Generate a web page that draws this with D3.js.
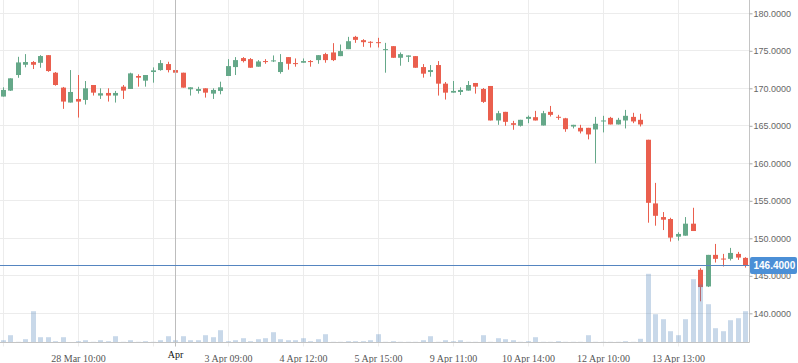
<!DOCTYPE html>
<html><head><meta charset="utf-8">
<script src="https://cdn.jsdelivr.net/npm/d3@7/dist/d3.min.js"></script>
<style>html,body{margin:0;padding:0;background:#fff;}svg{display:block;}</style>
</head><body><svg id="c" width="798" height="363"></svg>
<script>
const opens  = [168.9,169.69,171.77,173.14,173.5,173.4,174.42,172.08,170.09,168.1,168.58,168.45,170.44,169.03,169.38,169.03,170.22,169.91,171.64,171.02,172.17,172.43,173.23,172.43,172.08,169.87,169.65,170.0,169.29,169.65,171.64,172.83,174.03,173.89,172.88,173.63,173.63,172.17,174.16,173.36,173.41,173.63,173.76,174.56,174.78,174.29,175.22,176.86,176.42,176.2,176.15,175.13,175.62,174.07,174.2,174.29,172.83,172.17,173.1,170.62,169.42,169.51,169.69,170.71,169.91,170.31,165.71,166.86,165.35,165.0,165.93,166.15,165.04,166.86,166.2,166.0,164.9,164.73,164.73,164.51,165.58,166.06,165.18,165.71,166.19,165.8,163.14,154.65,152.83,152.57,150.22,150.35,151.95,145.8,143.58,147.79,147.3,147.26,147.92,147.39];
const highs  = [170.13,171.33,174.2,174.56,173.63,174.42,174.42,172.17,170.18,172.43,171.77,170.97,170.44,170.0,170.0,169.65,170.44,172.08,171.86,171.77,172.79,173.76,173.54,172.65,172.08,170.13,170.2,170.0,170.0,170.88,173.89,174.16,174.16,174.03,173.76,173.89,174.38,174.56,174.16,173.98,173.98,173.76,174.42,174.73,176.02,175.84,176.86,176.99,176.55,176.28,176.73,176.06,175.62,174.78,174.38,174.29,173.23,173.1,173.63,170.84,170.97,170.13,170.97,170.71,170.04,170.31,166.99,166.86,165.66,165.8,166.37,166.99,166.99,167.65,166.46,166.06,165.13,165.13,164.73,166.19,166.33,166.19,166.06,167.12,166.73,166.6,163.14,157.39,153.5,152.74,150.8,152.83,154.07,146.02,147.79,149.25,147.92,148.72,148.19,147.48];
const lows   = [168.9,169.65,171.4,172.8,172.57,172.74,172.2,170.35,167.26,168.1,166.1,167.83,169.03,168.58,168.23,168.1,168.58,169.91,170.22,170.22,170.75,172.35,172.12,170.97,170.09,169.03,169.3,168.76,168.58,169.2,171.64,171.77,173.45,172.74,172.88,173.27,173.5,171.95,172.48,172.88,173.41,172.88,173.27,173.41,173.63,174.29,175.22,176.06,175.53,175.44,175.44,172.08,174.07,173.01,173.5,172.74,171.42,171.55,169.03,168.5,169.42,169.11,169.69,169.29,168.05,165.71,165.13,165.0,164.47,164.9,165.35,165.71,165.04,166.24,165.8,164.2,164.65,163.98,163.19,160.0,164.12,165.18,165.18,164.65,165.35,164.91,152.08,151.68,151.1,149.56,149.69,150.35,150.97,141.6,143.5,146.77,146.24,147.04,147.12,146.1];
const closes = [169.78,171.33,173.45,173.5,173.14,174.3,172.3,170.44,168.23,169.51,168.23,170.0,169.42,169.34,169.03,169.38,169.69,171.99,171.42,171.77,172.39,173.36,172.43,172.08,170.09,170.13,169.9,169.42,169.78,170.13,172.96,173.76,173.63,172.74,173.58,173.54,173.72,173.5,173.27,173.27,173.63,173.54,174.42,173.76,173.76,174.96,176.28,176.46,176.15,176.1,176.06,175.22,174.07,174.56,174.38,172.74,171.95,172.43,170.62,169.42,169.65,169.78,170.44,170.22,168.19,165.71,166.68,165.53,165.13,165.8,166.19,165.71,166.68,166.46,166.1,164.55,165.13,164.25,163.85,165.27,165.71,165.18,165.8,166.33,165.58,165.18,154.73,153.0,152.48,150.09,150.58,151.95,150.97,143.5,147.79,147.26,147.17,148.05,147.43,146.4];
const volumes = [230,730,70,330,3130,530,530,130,530,20,130,230,70,230,130,630,70,230,70,130,70,230,630,230,630,230,230,730,530,1230,130,230,430,130,330,430,1030,330,230,230,430,130,330,830,70,70,130,130,130,230,830,70,130,70,70,70,230,630,70,230,130,230,70,70,730,70,430,330,230,70,130,530,70,70,130,70,70,70,730,70,70,70,70,130,70,370,6870,2830,2330,1130,730,2330,6330,5800,3830,1430,1130,2230,2430,3130];
const tickIndex  = [10, 30, 40, 50, 60, 70, 80, 90];
const tickLabels = ["28 Mar 10:00","3 Apr 09:00","4 Apr 12:00","5 Apr 15:00","9 Apr 11:00","10 Apr 14:00","12 Apr 10:00","13 Apr 13:00"];
const gridIndex  = [0, 10, 20, 30, 40, 50, 60, 70, 80, 90];
const priceTicks = [140,145,150,155,160,165,170,175,180];
const lastPrice = 146.4;
const crossIndex = 23;
const crossLabel = "Apr";

const W = 798, H = 363, plotR = 749.5, plotB = 342.5;
const svg = d3.select("#c");
const x = d3.scaleLinear().domain([0, 99]).range([3, 745.5]);
const y = d3.scaleLinear().domain([140, 180]).range([313.3, 13.3]);
const yv = d3.scaleLinear().domain([0, 10000]).range([plotB, plotB - 100]);
const px = v => Math.round(v - 0.5) + 0.5;

const GREEN = "#65a889", RED = "#ea5f4e";

// grid
const g = svg.append("g");
g.selectAll(".hg").data(priceTicks).enter().append("line")
  .attr("x1", 0).attr("x2", plotR).attr("y1", d => px(y(d))).attr("y2", d => px(y(d)))
  .attr("stroke", "#ececec").attr("stroke-width", 1);
g.selectAll(".vg").data(gridIndex).enter().append("line")
  .attr("x1", d => px(x(d))).attr("x2", d => px(x(d))).attr("y1", 0).attr("y2", plotB + 4)
  .attr("stroke", "#ececec").attr("stroke-width", 1);

// candles
const idx = d3.range(opens.length);
const cg = svg.append("g");
cg.selectAll(".w").data(idx).enter().append("line")
  .attr("x1", i => px(x(i))).attr("x2", i => px(x(i)))
  .attr("y1", i => y(highs[i])).attr("y2", i => y(lows[i]))
  .attr("stroke", i => closes[i] >= opens[i] ? GREEN : RED).attr("stroke-width", 1);
cg.selectAll(".b").data(idx).enter().append("rect")
  .attr("x", i => Math.round(x(i) - 2.5)).attr("width", 5)
  .attr("y", i => y(Math.max(opens[i], closes[i])))
  .attr("height", i => Math.max(1, Math.abs(y(opens[i]) - y(closes[i]))))
  .attr("fill", i => closes[i] >= opens[i] ? GREEN : RED);

// volume
svg.append("g").selectAll("rect").data(idx).enter().append("rect")
  .attr("x", i => Math.round(x(i) - 2.5)).attr("width", 5)
  .attr("y", i => yv(volumes[i])).attr("height", i => plotB - yv(volumes[i]))
  .attr("fill", "#4a7fb5").attr("fill-opacity", 0.3);

// axes lines
svg.append("line").attr("x1", 0).attr("x2", plotR).attr("y1", plotB).attr("y2", plotB)
  .attr("stroke", "#c4c4c4");
svg.append("line").attr("x1", plotR).attr("x2", plotR).attr("y1", 0).attr("y2", plotB)
  .attr("stroke", "#c4c4c4");

// y axis
const ya = svg.append("g").attr("transform", `translate(${plotR},0)`)
  .call(d3.axisRight(y).tickValues(priceTicks).tickSize(3).tickFormat(d3.format(".4f")));
ya.select(".domain").remove();
ya.selectAll(".tick line").attr("stroke", "#aaa");
ya.selectAll(".tick text").attr("x", 4).attr("fill", "#666")
  .style("font-family", "'Liberation Sans', Arial, sans-serif").style("font-size", "9px");

// x axis
const xa = svg.append("g").attr("transform", `translate(0,${plotB})`)
  .call(d3.axisBottom(x).tickValues(tickIndex).tickSize(0).tickFormat((d, k) => tickLabels[k]));
xa.select(".domain").remove();
xa.selectAll(".tick text").attr("y", 12).attr("fill", "#555")
  .style("font-family", "'Liberation Serif', 'Times New Roman', serif").style("font-size", "10px");

// crosshair
svg.append("line").attr("x1", px(x(crossIndex))).attr("x2", px(x(crossIndex)))
  .attr("y1", 0).attr("y2", plotB + 4).attr("stroke", "#bdbdbd");
svg.append("text").attr("x", x(crossIndex)).attr("y", plotB + 15.5).attr("text-anchor", "middle")
  .attr("fill", "#111").style("font-family", "'Liberation Serif', 'Times New Roman', serif")
  .style("font-size", "10px").text(crossLabel);

// last price line + label
const ly = px(y(lastPrice));
svg.append("line").attr("x1", 0).attr("x2", plotR).attr("y1", ly).attr("y2", ly)
  .attr("stroke", "#5585c0");
svg.append("rect").attr("x", plotR + 0.5).attr("y", ly - 8.5).attr("width", 47).attr("height", 17)
  .attr("rx", 2).attr("fill", "#4b8fd6");
svg.append("text").attr("x", plotR + 4).attr("y", ly).attr("dy", "0.35em").attr("fill", "#fff")
  .style("font-family", "'Liberation Sans', Arial, sans-serif").style("font-size", "10px")
  .style("font-weight", "bold").text(d3.format(".4f")(lastPrice));
</script></body></html>
